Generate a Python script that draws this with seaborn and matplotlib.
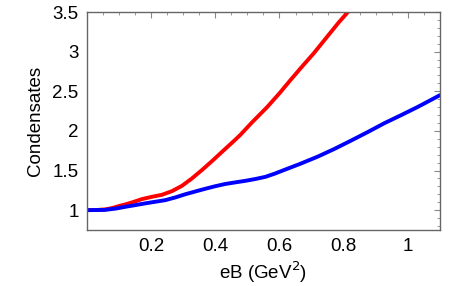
import numpy as np
import pandas as pd
import matplotlib
matplotlib.use("Agg")
import matplotlib.pyplot as plt
import seaborn as sns
from matplotlib.ticker import MultipleLocator

# --- DATA ---
eb_red = [0.0, 0.03, 0.056, 0.078, 0.098, 0.12, 0.14, 0.171, 0.202, 0.233, 0.265, 0.296, 0.327,
          0.358, 0.39, 0.421, 0.4625, 0.478, 0.515, 0.5615, 0.60, 0.634, 0.67, 0.707, 0.745,
          0.785, 0.82]
cond_red = [1.0, 1.002, 1.009, 1.026, 1.05, 1.073, 1.097, 1.139, 1.168, 1.193, 1.24, 1.307, 1.40,
            1.505, 1.62, 1.736, 1.89, 1.95, 2.11, 2.30, 2.475, 2.64, 2.81, 2.98, 3.17,
            3.37, 3.53]

eb_blue = [0.0, 0.056, 0.09, 0.119, 0.15, 0.181, 0.21, 0.244, 0.275, 0.306, 0.34, 0.369, 0.40,
           0.431, 0.465, 0.494, 0.525, 0.556, 0.585, 0.6135, 0.665, 0.718, 0.77, 0.822, 0.875,
           0.926, 0.98, 1.03, 1.065, 1.1]
cond_blue = [1.0, 1.003, 1.02, 1.042, 1.063, 1.085, 1.104, 1.126, 1.16, 1.20, 1.238, 1.27, 1.302,
             1.33, 1.352, 1.37, 1.393, 1.42, 1.46, 1.505, 1.585, 1.673, 1.77, 1.875, 1.985,
             2.095, 2.2, 2.30, 2.375, 2.45]

df_red = pd.DataFrame({"eB": eb_red, "cond": cond_red})
df_blue = pd.DataFrame({"eB": eb_blue, "cond": cond_blue})

# --- PLOT ---
sns.set_theme(style="white")
plt.rcParams['font.family'] = ['Liberation Sans', 'DejaVu Sans']

fig = plt.figure(figsize=(4.63, 2.86), dpi=100)
ax = fig.add_axes([0.188, 0.196, 0.762, 0.762])

sns.lineplot(data=df_red, x="eB", y="cond", sort=False, color="#ff0000", lw=2.8, ax=ax)
sns.lineplot(data=df_blue, x="eB", y="cond", sort=False, color="#0000ff", lw=2.8, ax=ax)

ax.set_xlim(0, 1.1)
ax.set_ylim(0.75, 3.5)
ax.set_xticks([0.2, 0.4, 0.6, 0.8, 1.0])
ax.set_xticklabels(["0.2", "0.4", "0.6", "0.8", "1"])
ax.set_yticks([1, 1.5, 2, 2.5, 3, 3.5])
ax.set_yticklabels(["1", "1.5", "2", "2.5", "3", "3.5"])
ax.xaxis.set_minor_locator(MultipleLocator(0.05))
ax.yaxis.set_minor_locator(MultipleLocator(0.1))

ax.tick_params(which="both", direction="in", top=True, right=True, colors="#888888",
               labelcolor="black", labelsize=13.5)
ax.tick_params(which="major", length=4.5, width=0.8, pad=6)
ax.tick_params(which="minor", length=2.5, width=0.6)
for s in ax.spines.values():
    s.set_color("#666666")
    s.set_linewidth(1.0)

ax.set_xlabel("eB (GeV$^2$)", fontsize=13.5, color="black", labelpad=3)
ax.set_ylabel("Condensates", fontsize=13.5, color="black", labelpad=6)

fig.savefig("out.png", dpi=100)
